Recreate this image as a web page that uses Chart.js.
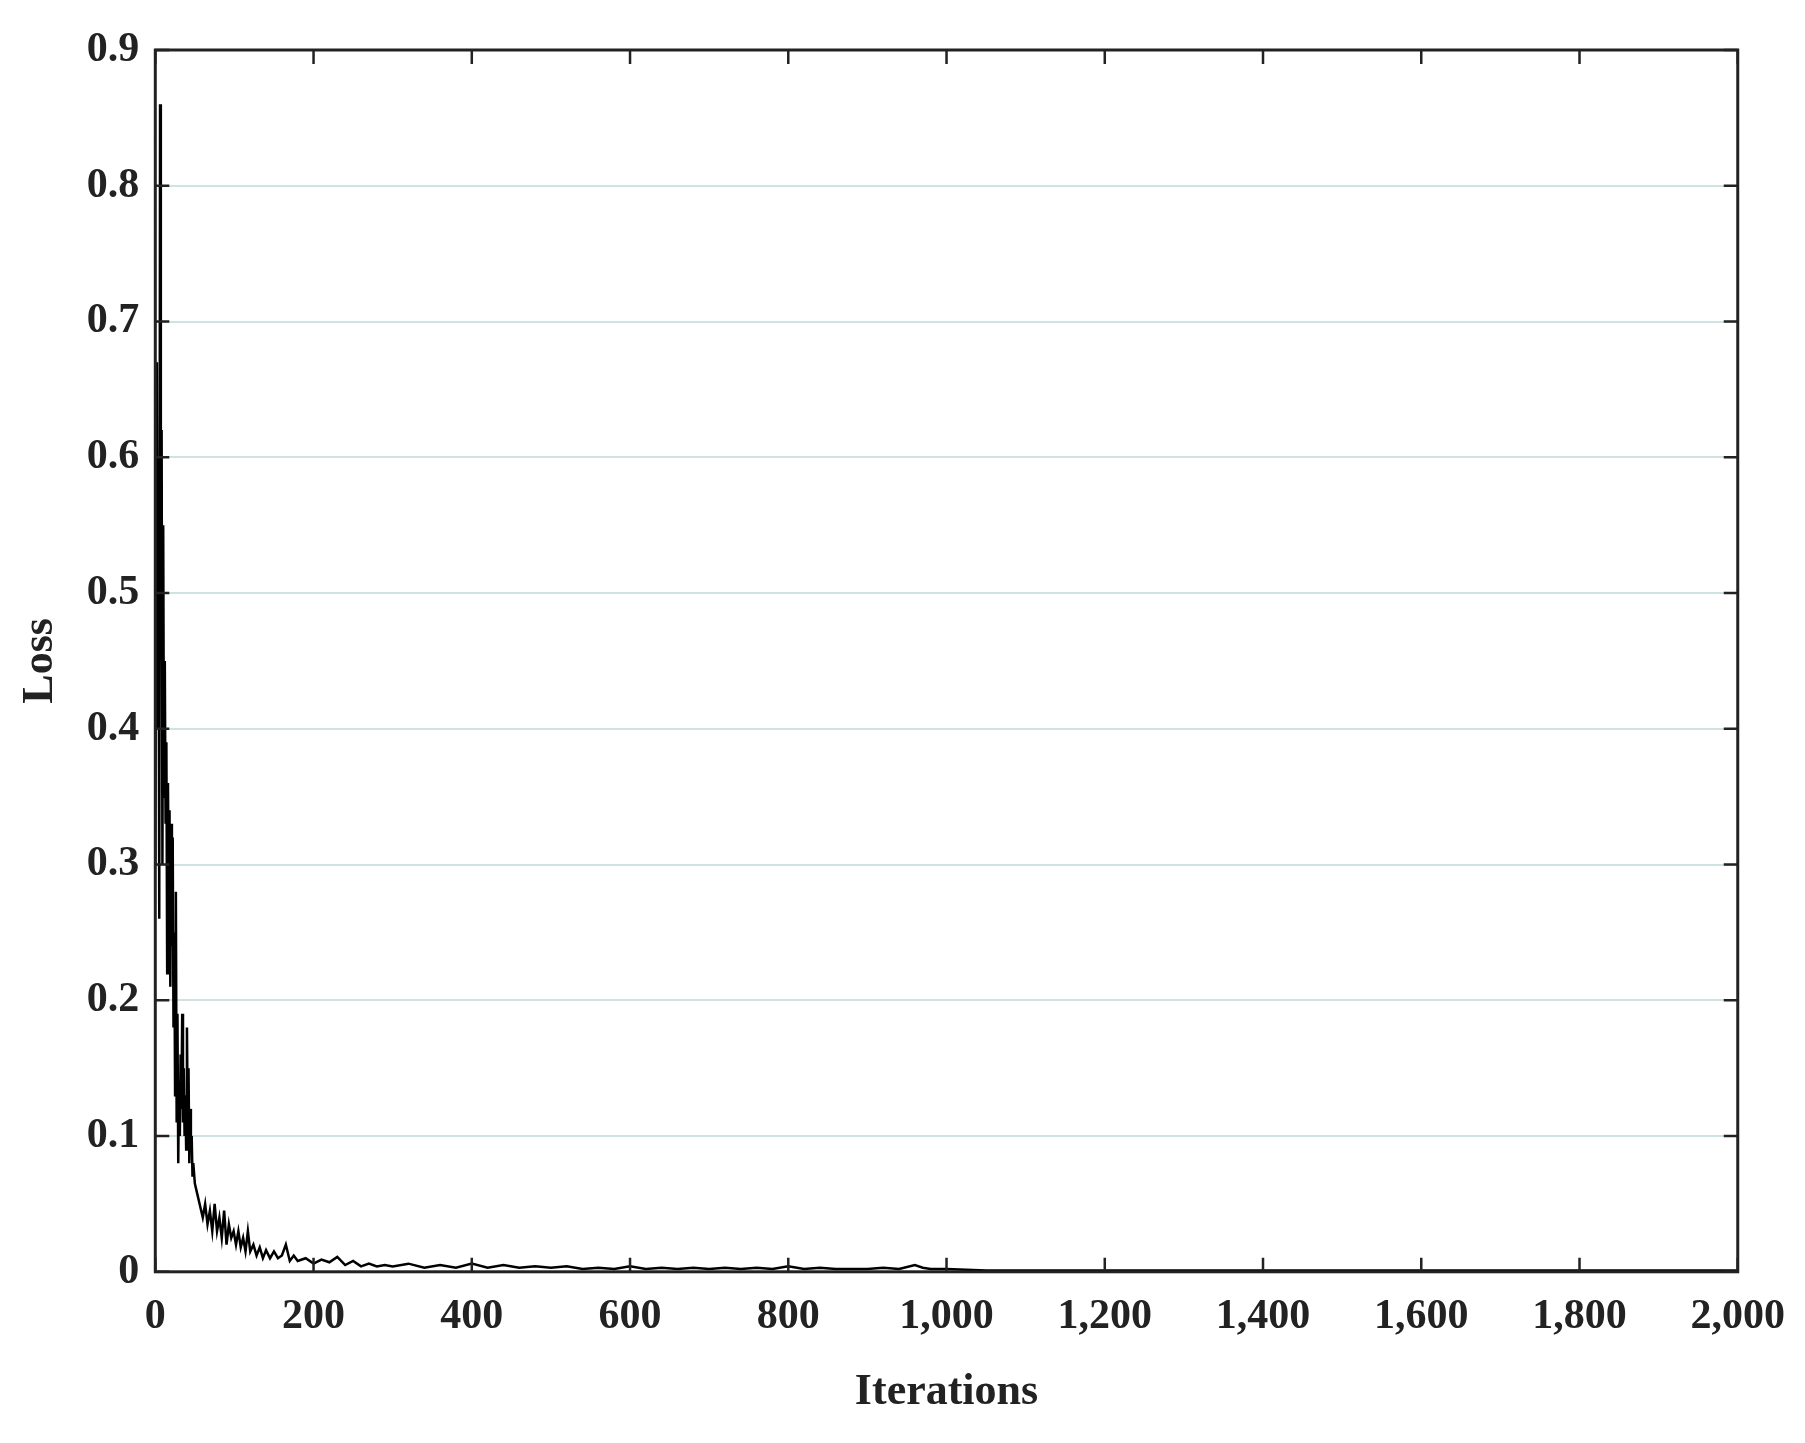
<!DOCTYPE html>
<html><head><meta charset="utf-8">
<script src="https://cdn.jsdelivr.net/npm/chart.js@4/dist/chart.umd.min.js"></script>
<style>html,body{margin:0;background:#fff}#w{width:1805px;height:1443px}</style>
</head><body><div id="w"><canvas id="c"></canvas></div>
<script>
const iterations = [0,2,3,4,5,6,7,8,9,10,11,12,13,14,15,16,17,18,19,20,21,22,23,24,25,26,27,28,29,30,31,32,33,34,35,36,37,38,39,40,41,42,43,44,45,46,47,48,50,52,54,56,58,60,63,66,69,72,75,78,81,84,87,90,93,96,99,102,105,108,111,114,117,120,124,128,132,136,140,145,150,155,160,165,170,175,180,190,200,210,220,230,240,250,260,270,280,290,300,320,340,360,380,400,420,440,460,480,500,520,540,560,580,600,620,640,660,680,700,720,740,760,780,800,820,840,860,880,900,920,940,960,970,980,1000,1050,1100,1150,1200,1250,1300,1350,1400,1450,1500,1550,1600,1650,1700,1750,1800,1850,1900,1950,2000];
const loss = [0.30,0.67,0.40,0.60,0.26,0.86,0.45,0.62,0.30,0.55,0.35,0.45,0.33,0.39,0.22,0.36,0.28,0.34,0.21,0.33,0.24,0.32,0.18,0.25,0.13,0.28,0.11,0.19,0.08,0.14,0.10,0.16,0.12,0.19,0.11,0.15,0.10,0.13,0.09,0.18,0.11,0.15,0.08,0.12,0.09,0.10,0.07,0.08,0.065,0.06,0.055,0.05,0.045,0.04,0.05,0.035,0.045,0.03,0.05,0.03,0.04,0.025,0.045,0.02,0.035,0.025,0.03,0.02,0.03,0.018,0.025,0.015,0.03,0.015,0.02,0.012,0.018,0.01,0.016,0.01,0.015,0.01,0.012,0.02,0.008,0.012,0.008,0.01,0.006,0.009,0.007,0.011,0.005,0.008,0.004,0.006,0.004,0.005,0.004,0.006,0.003,0.005,0.003,0.006,0.003,0.005,0.003,0.004,0.003,0.004,0.002,0.003,0.002,0.004,0.002,0.003,0.002,0.003,0.002,0.003,0.002,0.003,0.002,0.004,0.002,0.003,0.002,0.002,0.002,0.003,0.002,0.005,0.003,0.002,0.002,0.001,0.001,0.001,0.001,0.001,0.001,0.001,0.001,0.001,0.001,0.001,0.001,0.001,0.001,0.001,0.001,0.001,0.001,0.001,0.001];
const xTicks = [0,200,400,600,800,1000,1200,1400,1600,1800,2000];
const yTicks = [0,0.1,0.2,0.3,0.4,0.5,0.6,0.7,0.8,0.9];

const F = '"Liberation Serif","Times New Roman",serif';
const innerTicks = {
  id:'innerTicks',
  afterDraw(ch){
    const {ctx, chartArea:a, scales:{x,y}} = ch;
    ctx.save(); ctx.strokeStyle='#222'; ctx.lineWidth=2.5;
    xTicks.forEach(v=>{const p=x.getPixelForValue(v);
      ctx.beginPath();ctx.moveTo(p,a.bottom);ctx.lineTo(p,a.bottom-14);ctx.moveTo(p,a.top);ctx.lineTo(p,a.top+14);ctx.stroke();});
    yTicks.forEach(v=>{const p=y.getPixelForValue(v);
      ctx.beginPath();ctx.moveTo(a.left,p);ctx.lineTo(a.left+14,p);ctx.moveTo(a.right,p);ctx.lineTo(a.right-14,p);ctx.stroke();});
    ctx.lineWidth=3; ctx.strokeRect(a.left,a.top,a.right-a.left,a.bottom-a.top);
    ctx.restore();
  }
};
new Chart(document.getElementById('c'),{
  type:'line',
  data:{datasets:[{data:iterations.map((x,i)=>({x,y:loss[i]})),borderColor:'#000',borderWidth:2.5,pointRadius:0,tension:0}]},
  options:{
    responsive:true,maintainAspectRatio:false,animation:false,
    layout:{padding:{left:10,right:60,top:50,bottom:20}},
    plugins:{legend:{display:false},tooltip:{enabled:false}},
    scales:{
      x:{type:'linear',min:0,max:2000,
        afterBuildTicks:s=>{s.ticks=xTicks.map(v=>({value:v}));},
        grid:{display:false,drawTicks:false},border:{display:false},
        ticks:{color:'#222',padding:20,font:{family:F,size:42,weight:'bold'},maxRotation:0},
        title:{display:true,text:'Iterations',color:'#222',font:{family:F,size:44,weight:'bold'},padding:{top:4}}},
      y:{min:0,max:0.9,
        afterBuildTicks:s=>{s.ticks=yTicks.map(v=>({value:v}));},
        grid:{color:'#cfe3e3',lineWidth:2,drawTicks:false},border:{display:false},
        ticks:{color:'#222',padding:16,font:{family:F,size:42,weight:'bold'},callback:v=>v===0?'0':v.toFixed(1)},
        title:{display:true,text:'Loss',color:'#222',font:{family:F,size:44,weight:'bold'},padding:{bottom:4}}}
    }
  },
  plugins:[innerTicks]
});
</script></body></html>
